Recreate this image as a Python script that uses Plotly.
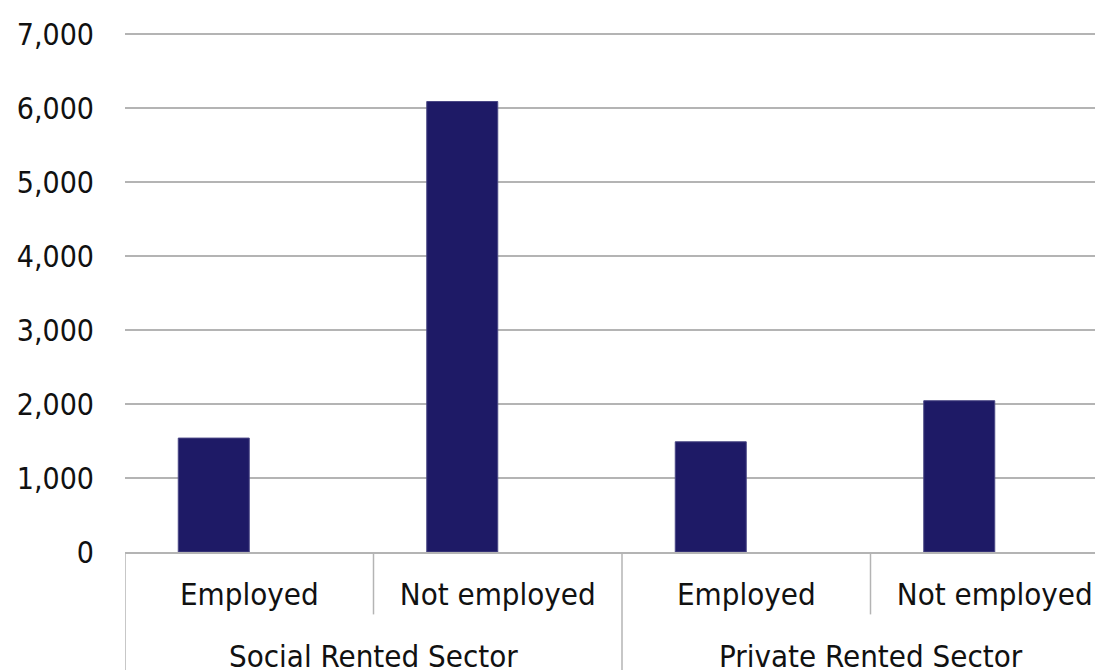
import plotly.graph_objects as go

# Households by tenure and employment status
sectors = ["Social Rented Sector", "Social Rented Sector",
           "Private Rented Sector", "Private Rented Sector"]
status = ["Employed", "Not employed", "Employed", "Not employed"]
households = [1540, 6090, 1490, 2045]

y_ticks = [0, 1000, 2000, 3000, 4000, 5000, 6000, 7000]
y_tick_text = ["0", "1,000", "2,000", "3,000", "4,000", "5,000", "6,000", "7,000"]

FONT = "DejaVu Sans Condensed, DejaVu Sans, sans-serif"
TEXT = "#111111"
BAR = "#1E1A66"
GRID = "#B4B4B4"

pos = list(range(len(status)))

fig = go.Figure()
fig.add_trace(go.Bar(
    x=pos,
    y=households,
    marker=dict(color=BAR, line=dict(color="#4A4785", width=1)),
    width=2 / 7,
    offset=-2 / 7,
))

# group boundaries and sector labels underneath the employment labels
groups = []
for i, s in enumerate(sectors):
    if not groups or groups[-1][0] != s:
        groups.append([s, i, i])
    else:
        groups[-1][2] = i

for name, first, last in groups:
    fig.add_shape(type="line", xref="x", yref="paper",
                  x0=first - 0.5, x1=first - 0.5, y0=0, y1=-0.26,
                  line=dict(color=GRID, width=1.5))
    for k in range(first, last):
        fig.add_shape(type="line", xref="x", yref="paper",
                      x0=k + 0.5, x1=k + 0.5, y0=0, y1=-0.12,
                      line=dict(color=GRID, width=1.5))
    fig.add_annotation(x=(first + last) / 2, xref="x",
                       y=-0.162, yref="paper", yanchor="top",
                       text=name, showarrow=False,
                       font=dict(family=FONT, size=31, color=TEXT))

fig.update_layout(
    width=1095, height=670,
    margin=dict(l=125, r=0, t=32, b=118),
    paper_bgcolor="white", plot_bgcolor="white",
    showlegend=False,
    font=dict(family=FONT, size=30, color=TEXT),
)
fig.update_xaxes(
    range=[-0.5, -0.5 + 970 / 248.5],
    tickvals=pos, ticktext=status,
    showline=True, linecolor=GRID, linewidth=1.5,
    tickfont=dict(family=FONT, size=31, color=TEXT),
    ticks="", ticklabelstandoff=14,
    showgrid=False, zeroline=False,
)
fig.update_yaxes(
    range=[0, 7030],
    tickvals=y_ticks, ticktext=y_tick_text,
    showgrid=True, gridcolor=GRID, gridwidth=1.5,
    showline=False, zeroline=False,
    ticks="", ticklabelstandoff=30,
    tickfont=dict(family=FONT, size=30, color=TEXT),
)

fig.write_html("out.html")
